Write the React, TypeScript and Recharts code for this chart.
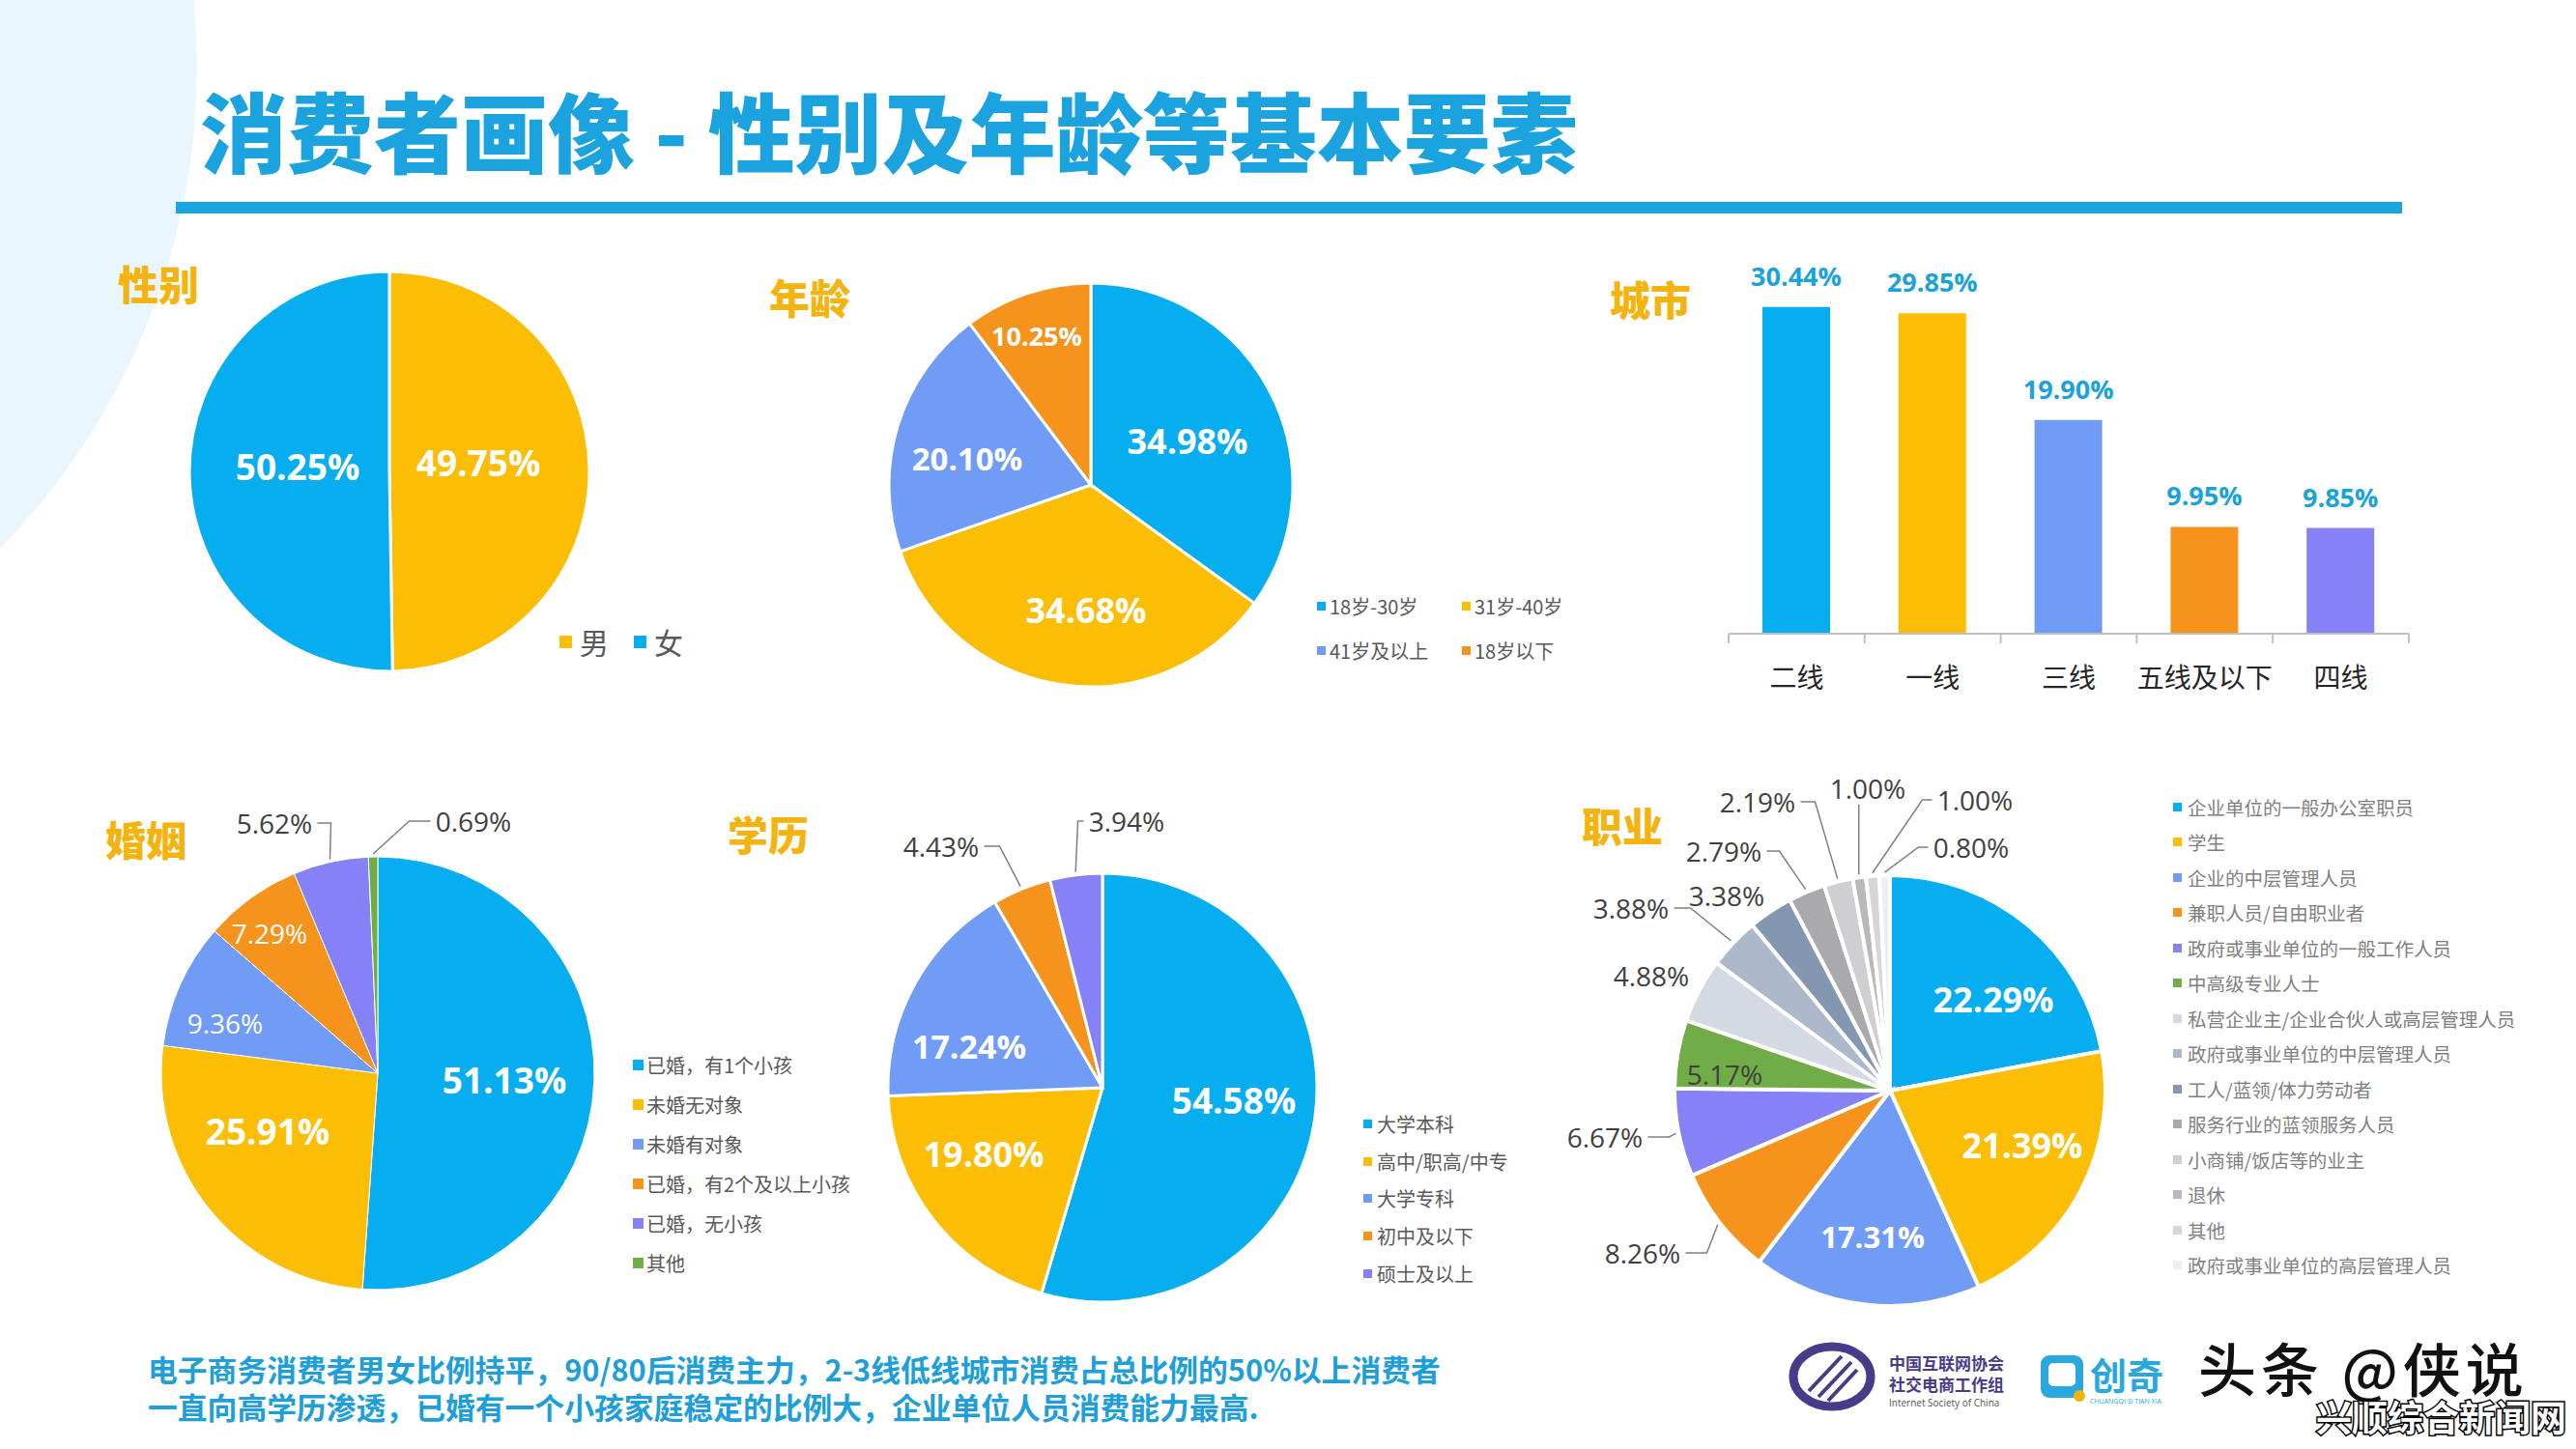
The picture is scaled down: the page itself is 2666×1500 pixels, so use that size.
import React from 'react';
import { PieChart, Pie, Cell, BarChart, Bar, XAxis, YAxis, LabelList, Legend } from 'recharts';

const CJK = '"Noto Sans CJK SC", "Noto Sans", sans-serif';
const NUM = '"Open Sans", "Noto Sans CJK SC", sans-serif';

const BLUE = '#06AEEF';
const YELLOW = '#FCBD05';
const LIGHT_BLUE = '#719CF6';
const ORANGE = '#F6931C';
const PURPLE = '#8681F6';
const GREEN = '#70AD47';
const GOLD = '#F5B30E';
const TITLE_BLUE = '#1BA3E0';

// 性别
const genderNames = ['男', '女'];
const genderValues = [49.75, 50.25];
const genderColors = [YELLOW, BLUE];

// 年龄
const ageNames = ['18岁-30岁', '31岁-40岁', '41岁及以上', '18岁以下'];
const ageValues = [34.98, 34.68, 20.1, 10.25];
const ageColors = [BLUE, YELLOW, LIGHT_BLUE, ORANGE];

// 城市
const cityNames = ['二线', '一线', '三线', '五线及以下', '四线'];
const cityValues = [30.44, 29.85, 19.9, 9.95, 9.85];
const cityColors = [BLUE, YELLOW, LIGHT_BLUE, ORANGE, PURPLE];

// 婚姻
const marriageNames = ['已婚，有1个小孩', '未婚无对象', '未婚有对象', '已婚，有2个及以上小孩', '已婚，无小孩', '其他'];
const marriageValues = [51.13, 25.91, 9.36, 7.29, 5.62, 0.69];
const marriageColors = [BLUE, YELLOW, LIGHT_BLUE, ORANGE, PURPLE, GREEN];

// 学历
const eduNames = ['大学本科', '高中/职高/中专', '大学专科', '初中及以下', '硕士及以上'];
const eduValues = [54.58, 19.8, 17.24, 4.43, 3.94];
const eduColors = [BLUE, YELLOW, LIGHT_BLUE, ORANGE, PURPLE];

// 职业
const jobNames = [
  '企业单位的一般办公室职员',
  '学生',
  '企业的中层管理人员',
  '兼职人员/自由职业者',
  '政府或事业单位的一般工作人员',
  '中高级专业人士',
  '私营企业主/企业合伙人或高层管理人员',
  '政府或事业单位的中层管理人员',
  '工人/蓝领/体力劳动者',
  '服务行业的蓝领服务人员',
  '小商铺/饭店等的业主',
  '退休',
  '其他',
  '政府或事业单位的高层管理人员',
];
const jobValues = [22.29, 21.39, 17.31, 8.26, 6.67, 5.17, 4.88, 3.88, 3.38, 2.79, 2.19, 1.0, 1.0, 0.8];
const jobColors = [
  BLUE, YELLOW, LIGHT_BLUE, ORANGE, PURPLE, GREEN,
  '#D5D9E1', '#ADB9CA', '#8497B0', '#A9A9AE', '#CFCFD3', '#B9B9BC', '#D6D6D6', '#EFEFEF',
];

const toRows = (names: string[], values: number[], colors: string[]) =>
  names.map((name, i) => ({ name, value: values[i], fill: colors[i] }));

// label placement: offsets from the pie centre (style only)
type LabelSpec = {
  dx: number;
  dy: number;
  size: number;
  bold?: boolean;
  color?: string;
  leader?: 'left' | 'right' | 'bottom';
  elbow?: number;
};

const W = '#FFFFFF';
const DARK = '#404040';

const genderLabels: LabelSpec[] = [
  { dx: 92, dy: -10, size: 37, bold: true, color: W },
  { dx: -95, dy: -6, size: 37, bold: true, color: W },
];
const ageLabels: LabelSpec[] = [
  { dx: 100, dy: -46, size: 36, bold: true, color: W },
  { dx: -5, dy: 129, size: 36, bold: true, color: W },
  { dx: -128, dy: -28, size: 33, bold: true, color: W },
  { dx: -56, dy: -155, size: 27, bold: true, color: W },
];
const marriageLabels: LabelSpec[] = [
  { dx: 131, dy: 6, size: 37, bold: true, color: W },
  { dx: -114, dy: 59, size: 37, bold: true, color: W },
  { dx: -158, dy: -52, size: 28, color: W },
  { dx: -112, dy: -145, size: 28, color: W },
  { dx: -107, dy: -259, size: 28, color: DARK, leader: 'right', elbow: 14 },
  { dx: 99, dy: -261, size: 28, color: DARK, leader: 'left', elbow: 22 },
];
const eduLabels: LabelSpec[] = [
  { dx: 136, dy: 12, size: 37, bold: true, color: W },
  { dx: -123, dy: 68, size: 36, bold: true, color: W },
  { dx: -138, dy: -43, size: 34, bold: true, color: W },
  { dx: -167, dy: -250, size: 28, color: DARK, leader: 'right', elbow: 16 },
  { dx: 25, dy: -276, size: 28, color: DARK, leader: 'left', elbow: 6 },
];
const jobLabels: LabelSpec[] = [
  { dx: 107, dy: -95, size: 36, bold: true, color: W },
  { dx: 137, dy: 56, size: 36, bold: true, color: W },
  { dx: -18, dy: 151, size: 31, bold: true, color: W },
  { dx: -256, dy: 168, size: 28, color: DARK, leader: 'right', elbow: 22 },
  { dx: -295, dy: 48, size: 28, color: DARK, leader: 'right', elbow: 22 },
  { dx: -171, dy: -17, size: 28, color: DARK },
  { dx: -247, dy: -119, size: 28, color: DARK },
  { dx: -268, dy: -189, size: 28, color: DARK, leader: 'right', elbow: 17 },
  { dx: -169, dy: -202, size: 28, color: DARK },
  { dx: -172, dy: -248, size: 28, color: DARK, leader: 'right', elbow: 13 },
  { dx: -137, dy: -299, size: 28, color: DARK, leader: 'right', elbow: 15 },
  { dx: -23, dy: -313, size: 28, color: DARK, leader: 'bottom' },
  { dx: 88, dy: -301, size: 28, color: DARK, leader: 'left', elbow: 10 },
  { dx: 84, dy: -252, size: 28, color: DARK, leader: 'left', elbow: 10 },
];

const RAD = Math.PI / 180;
const textWidth = (s: string, size: number) => {
  let w = 0;
  for (const ch of s) w += ch === '.' ? 0.27 : ch === '%' ? 0.84 : 0.57;
  return w * size;
};

const pieLabel = (specs: LabelSpec[]) => (props: any) => {
  const { cx, cy, midAngle, outerRadius, index, value } = props;
  const s = specs[index];
  if (!s) return null;
  const text = `${Number(value).toFixed(2)}%`;
  const tx = cx + s.dx;
  const ty = cy + s.dy;
  let line = null;
  if (s.leader) {
    const ex = cx + (outerRadius + 3) * Math.cos(-midAngle * RAD);
    const ey = cy + (outerRadius + 3) * Math.sin(-midAngle * RAD);
    let pts = '';
    if (s.leader === 'bottom') {
      pts = `${ex},${ty + s.size * 0.6} ${ex},${ey}`;
    } else {
      const dir = s.leader === 'right' ? 1 : -1;
      const edge = tx + dir * (textWidth(text, s.size) / 2 + 5);
      const elbow = edge + dir * (s.elbow ?? 14);
      pts = `${edge},${ty} ${elbow},${ty} ${ex},${ey}`;
    }
    line = <polyline points={pts} fill="none" stroke="#808080" strokeWidth={1.5} />;
  }
  return (
    <g key={`lbl-${index}`}>
      {line}
      <text
        x={tx}
        y={ty}
        textAnchor="middle"
        dominantBaseline="central"
        fontSize={s.size}
        fontWeight={s.bold ? 700 : 400}
        fill={s.color ?? W}
        fontFamily={NUM}
      >
        {text}
      </text>
    </g>
  );
};

const ListLegend = ({ names, colors, row, size, box, gap, color }: any) => (
  <div style={{ fontFamily: CJK, fontSize: size, color, whiteSpace: 'nowrap' }}>
    {names.map((n: string, i: number) => (
      <div key={n} style={{ display: 'flex', alignItems: 'center', height: row }}>
        <span style={{ display: 'inline-block', width: box, height: box, background: colors[i], marginRight: gap }} />
        <span>{n}</span>
      </div>
    ))}
  </div>
);

const GridLegend = ({ names, colors, row, col, size, box, gap, color }: any) => (
  <div style={{ fontFamily: CJK, fontSize: size, color, whiteSpace: 'nowrap', display: 'grid', gridTemplateColumns: `${col}px ${col}px` }}>
    {names.map((n: string, i: number) => (
      <div key={n} style={{ display: 'flex', alignItems: 'center', height: row }}>
        <span style={{ display: 'inline-block', width: box, height: box, background: colors[i], marginRight: gap }} />
        <span>{n}</span>
      </div>
    ))}
  </div>
);

const InlineLegend = ({ names, colors, size, box, gap, color }: any) => (
  <div style={{ fontFamily: CJK, fontSize: size, color, whiteSpace: 'nowrap', display: 'flex', alignItems: 'center' }}>
    {names.map((n: string, i: number) => (
      <div key={n} style={{ display: 'flex', alignItems: 'center', marginRight: 26 }}>
        <span style={{ display: 'inline-block', width: box, height: box, background: colors[i], marginRight: gap }} />
        <span>{n}</span>
      </div>
    ))}
  </div>
);

const legendBox = (left: number, top: number) => ({ left, top, bottom: 'auto', right: 'auto', width: 'auto', height: 'auto' });

const PieBlock = ({ left, top, width, height, cx, cy, r, rows, labels, strokeW, legend }: any) => (
  <div style={{ position: 'absolute', left, top }}>
    <PieChart width={width} height={height} margin={{ top: 0, right: 0, bottom: 0, left: 0 }}>
      <Pie
        data={rows}
        dataKey="value"
        nameKey="name"
        cx={cx}
        cy={cy}
        outerRadius={r}
        startAngle={90}
        endAngle={-270}
        stroke="#FFFFFF"
        strokeWidth={strokeW}
        label={pieLabel(labels)}
        labelLine={false}
        isAnimationActive={false}
      >
        {rows.map((d: any) => (
          <Cell key={d.name} fill={d.fill} />
        ))}
      </Pie>
      {legend}
    </PieChart>
  </div>
);

// bar chart geometry
const BAR_W = 730;
const BAR_H = 500;
const BAR_MARGIN = { top: 27, right: 17, left: 9, bottom: 24 };
const BAR_XAXIS_H = 60;
const BAR_AXIS_Y = BAR_H - BAR_MARGIN.bottom - BAR_XAXIS_H;
const BAND = (BAR_W - BAR_MARGIN.left - BAR_MARGIN.right) / cityNames.length;

const CityTick = (props: any) => {
  const { x, payload, index } = props;
  const last = index === cityNames.length - 1;
  return (
    <g>
      <line x1={x - BAND / 2} x2={x - BAND / 2} y1={BAR_AXIS_Y} y2={BAR_AXIS_Y + 10} stroke="#BFBFBF" strokeWidth={2} />
      {last && <line x1={x + BAND / 2} x2={x + BAND / 2} y1={BAR_AXIS_Y} y2={BAR_AXIS_Y + 10} stroke="#BFBFBF" strokeWidth={2} />}
      <text x={x} y={BAR_AXIS_Y + 44} textAnchor="middle" dominantBaseline="central" fontSize={28} fill="#262626" fontFamily={CJK}>
        {payload.value}
      </text>
    </g>
  );
};

const sectionTitles = [
  { text: '性别', x: 122, y: 292 },
  { text: '年龄', x: 796, y: 306 },
  { text: '城市', x: 1666, y: 308 },
  { text: '婚姻', x: 109, y: 867 },
  { text: '学历', x: 753, y: 862 },
  { text: '职业', x: 1637, y: 853 },
];

const Backdrop = () => (
  <svg width={2666} height={1500} style={{ position: 'absolute', left: 0, top: 0 }}>
    <circle cx={-510} cy={68} r={714} fill="#EAF6FD" />
    <text x={207} y={133} fontSize={90} fontWeight={900} fill={TITLE_BLUE} fontFamily={CJK} dominantBaseline="central">
      消费者画像 - 性别及年龄等基本要素
    </text>
    <rect x={182} y={209} width={2304} height={12} fill="#1AA5E1" />
    {sectionTitles.map((t) => (
      <text key={t.text} x={t.x} y={t.y} fontSize={42} fontWeight={900} fill={GOLD} fontFamily={CJK} dominantBaseline="central">
        {t.text}
      </text>
    ))}
    <text x={153} y={1416} fontSize={30.8} fontWeight={700} fill="#1E9FD9" fontFamily={CJK} dominantBaseline="central">
      电子商务消费者男女比例持平，90/80后消费主力，2-3线低线城市消费占总比例的50%以上消费者
    </text>
    <text x={153} y={1455} fontSize={30.8} fontWeight={700} fill="#1E9FD9" fontFamily={CJK} dominantBaseline="central">
      一直向高学历渗透，已婚有一个小孩家庭稳定的比例大，企业单位人员消费能力最高.
    </text>
    {/* logos */}
    <ellipse cx={1896} cy={1425} rx={40} ry={31} fill="none" stroke="#4A3A8A" strokeWidth={9} />
    <path d="M1872 1440 L1906 1404 M1882 1446 L1916 1410 M1892 1450 L1922 1418" stroke="#4A3A8A" strokeWidth={4} />
    <text x={1955} y={1410} fontSize={17} fontWeight={700} fill="#4A3A8A" fontFamily={CJK} dominantBaseline="central">中国互联网协会</text>
    <text x={1955} y={1432} fontSize={17} fontWeight={700} fill="#4A3A8A" fontFamily={CJK} dominantBaseline="central">社交电商工作组</text>
    <text x={1955} y={1452} fontSize={10} fill="#555" fontFamily={NUM} dominantBaseline="central">Internet Society of China</text>
    <rect x={2112} y={1403} width={44} height={44} rx={9} fill="#29A8E0" />
    <rect x={2120} y={1411} width={28} height={24} rx={5} fill="#FFFFFF" />
    <circle cx={2152} cy={1445} r={6} fill={GOLD} />
    <text x={2163} y={1421} fontSize={38} fontWeight={700} fill="#29A8E0" fontFamily={CJK} dominantBaseline="central">创奇</text>
    <text x={2163} y={1450} fontSize={7} fill="#29A8E0" fontFamily={NUM} dominantBaseline="central">CHUANGQI SI TIAN XIA</text>
    <text x={2275} y={1414} fontSize={60} fontWeight={500} fill="#111" fontFamily={CJK} dominantBaseline="central" letterSpacing={5}>头条 @侠说</text>
    <text x={2397} y={1466} fontSize={37} fontWeight={700} fill="#FFFFFF" stroke="#000" strokeWidth={3} paintOrder="stroke" fontFamily={CJK} dominantBaseline="central">
      兴顺综合新闻网
    </text>
  </svg>
);

export default function App() {
  const genderRows = toRows(genderNames, genderValues, genderColors);
  const ageRows = toRows(ageNames, ageValues, ageColors);
  const marriageRows = toRows(marriageNames, marriageValues, marriageColors);
  const eduRows = toRows(eduNames, eduValues, eduColors);
  const jobRows = toRows(jobNames, jobValues, jobColors);
  const cityRows = cityNames.map((name, i) => ({ name, value: cityValues[i] }));

  return (
    <div style={{ position: 'absolute', left: 0, top: 0, width: 2666, height: 1500, background: '#FFFFFF', overflow: 'hidden' }}>
      <Backdrop />

      <PieBlock
        left={150} top={260} width={620} height={440} cx={253} cy={228} r={207}
        rows={genderRows} labels={genderLabels} strokeW={3}
        legend={
          <Legend
            wrapperStyle={legendBox(429, 382)}
            content={() => <InlineLegend names={genderNames} colors={genderColors} size={30} box={13} gap={8} color="#595959" />}
          />
        }
      />

      <PieBlock
        left={900} top={270} width={760} height={460} cx={229} cy={232} r={209}
        rows={ageRows} labels={ageLabels} strokeW={3}
        legend={
          <Legend
            wrapperStyle={legendBox(463, 334)}
            content={() => <GridLegend names={ageNames} colors={ageColors} row={46} col={150} size={20} box={9} gap={4} color="#595959" />}
          />
        }
      />

      <div style={{ position: 'absolute', left: 1780, top: 240 }}>
        <BarChart width={BAR_W} height={BAR_H} data={cityRows} margin={BAR_MARGIN} barSize={70}>
          <XAxis
            dataKey="name"
            height={BAR_XAXIS_H}
            interval={0}
            tickLine={false}
            axisLine={{ stroke: '#BFBFBF', strokeWidth: 2 }}
            tick={<CityTick />}
          />
          <YAxis hide domain={[0, 35]} tickCount={8} allowDataOverflow />
          <Bar dataKey="value" isAnimationActive={false}>
            {cityRows.map((d, i) => (
              <Cell key={d.name} fill={cityColors[i]} />
            ))}
            <LabelList
              dataKey="value"
              position="top"
              offset={22}
              formatter={(v: any) => `${Number(v).toFixed(2)}%`}
              fill="#1CA2DB"
              fontSize={27}
              fontWeight={700}
              fontFamily={NUM}
            />
          </Bar>
        </BarChart>
      </div>

      <PieBlock
        left={100} top={820} width={800} height={560} cx={291} cy={291} r={224}
        rows={marriageRows} labels={marriageLabels} strokeW={1}
        legend={
          <Legend
            wrapperStyle={legendBox(555, 262)}
            content={() => <ListLegend names={marriageNames} colors={marriageColors} row={41} size={20} box={11} gap={3} color="#595959" />}
          />
        }
      />

      <PieBlock
        left={900} top={820} width={720} height={560} cx={241} cy={306} r={222}
        rows={eduRows} labels={eduLabels} strokeW={3}
        legend={
          <Legend
            wrapperStyle={legendBox(511, 324)}
            content={() => <ListLegend names={eduNames} colors={eduColors} row={38.8} size={20} box={9} gap={5} color="#595959" />}
          />
        }
      />

      <PieBlock
        left={1600} top={780} width={1066} height={580} cx={356} cy={349} r={223}
        rows={jobRows} labels={jobLabels} strokeW={4}
        legend={
          <Legend
            wrapperStyle={legendBox(649, 37)}
            content={() => <ListLegend names={jobNames} colors={jobColors} row={36.5} size={19.5} box={9} gap={6} color="#7F7F7F" />}
          />
        }
      />
    </div>
  );
}
